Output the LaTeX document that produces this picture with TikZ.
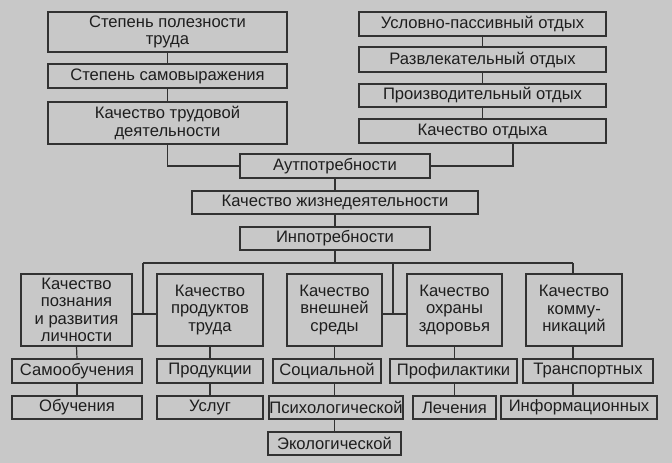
\documentclass[tikz,border=0pt]{standalone}
\usepackage{fontspec}
\setmainfont{Liberation Sans}
\definecolor{bg}{RGB}{200,200,200}
\definecolor{ln}{RGB}{50,50,50}
\definecolor{tx}{RGB}{30,30,30}
\tikzset{
  box/.style={draw=ln, line width=1.2pt, fill=bg, rectangle, inner sep=0pt,
    align=center, text=tx, font=\fontsize{16.6}{17.5}\selectfont},
  conn/.style={draw=ln, line width=1.2pt},
}
\begin{document}
\begin{tikzpicture}[x=1pt,y=-1pt]
\fill[bg] (0,0) rectangle (672,463);
\useasboundingbox (0,0) rectangle (672,463);
% top left column
\node[box, minimum width=239, minimum height=40] (p1) at (167.5,32) {Степень полезности\\труда};
\node[box, minimum width=239, minimum height=24] (p2) at (167.5,76) {Степень самовыражения};
\node[box, minimum width=239, minimum height=42] (p3) at (167.5,123) {Качество трудовой\\деятельности};
% top right column
\node[box, minimum width=247, minimum height=24] (r1) at (482.5,24) {Условно-пассивный отдых};
\node[box, minimum width=247, minimum height=25] (r2) at (482.5,59.5) {Развлекательный отдых};
\node[box, minimum width=247, minimum height=23] (r3) at (482.5,95.5) {Производительный отдых};
\node[box, minimum width=247, minimum height=24] (r4) at (482.5,131) {Качество отдыха};
% centre column
\node[box, minimum width=190, minimum height=24] (a) at (335,166) {Аутпотребности};
\node[box, minimum width=286, minimum height=23] (k) at (335,202.5) {Качество жизнедеятельности};
\node[box, minimum width=190, minimum height=23] (i) at (335,238.5) {Инпотребности};
% five categories
\node[box, minimum width=111, minimum height=72] (c1) at (76.5,310) {Качество\\познания\\и развития\\личности};
\node[box, minimum width=106, minimum height=72] (c2) at (210,310) {Качество\\продуктов\\труда};
\node[box, minimum width=95, minimum height=72] (c3) at (334.5,310) {Качество\\внешней\\среды};
\node[box, minimum width=95, minimum height=72] (c4) at (454.5,310) {Качество\\охраны\\здоровья};
\node[box, minimum width=96, minimum height=72] (c5) at (574,310) {Качество\\комму-\\никаций};
% sub boxes
\node[box, minimum width=130, minimum height=24] (s11) at (77,371) {Самообучения};
\node[box, minimum width=130, minimum height=23] (s12) at (77,407.5) {Обучения};
\node[box, minimum width=106, minimum height=24] (s21) at (210,371) {Продукции};
\node[box, minimum width=106, minimum height=23] (s22) at (210,407.5) {Услуг};
\node[box, minimum width=108, minimum height=24] (s31) at (327,371) {Социальной};
\node[box, minimum width=134, minimum height=23] (s32) at (336,407.5) {Психологической};
\node[box, minimum width=133, minimum height=23] (s33) at (334.5,443.5) {Экологической};
\node[box, minimum width=127, minimum height=24] (s41) at (453.5,371) {Профилактики};
\node[box, minimum width=83, minimum height=23] (s42) at (454.5,407.5) {Лечения};
\node[box, minimum width=130, minimum height=24] (s51) at (588,371) {Транспортных};
\node[box, minimum width=156, minimum height=23] (s52) at (579,407.5) {Информационных};
% connectors top
\draw[conn] (p1.south) -- (p2.north);
\draw[conn] (p2.south) -- (p3.north);
\draw[conn] (r1.south) -- (r2.north);
\draw[conn] (r2.south) -- (r3.north);
\draw[conn] (r3.south) -- (r4.north);
\draw[conn] (p3.south) |- (a.west);
\draw[conn] ([xshift=30.5pt]r4.south) |- (a.east);
\draw[conn] (a.south) -- (k.north);
\draw[conn] (k.south) -- (i.north);
% bus
\coordinate (busL) at (143,263);
\coordinate (busM) at (393,263);
\coordinate (busR) at (573,263);
\coordinate (j1) at ([yshift=-4pt]c1.east);
\coordinate (j2) at ([yshift=-4pt]c3.east);
\draw[conn] (i.south) -- (i.south |- busL);
\draw[conn] (busL) -- (busR);
\draw[conn] (busL) -- (busL |- j1);
\draw[conn] (j1) -- (c2.west |- j1);
\draw[conn] (busM) -- (busM |- j2);
\draw[conn] (j2) -- (c4.west |- j2);
\draw[conn] (busR) -- (busR |- c5.north);
% sub connectors
\draw[conn] (c1.south) -- (s11.north);
\draw[conn] (s11.south) -- (s12.north);
\draw[conn] (c2.south) -- (s21.north);
\draw[conn] (s21.south) -- (s22.north);
\draw[conn] (c3.south) -- (c3.south |- s31.north);
\draw[conn] (c3.south |- s31.south) -- (c3.south |- s32.north);
\draw[conn] (c3.south |- s32.south) -- (c3.south |- s33.north);
\draw[conn] (c4.south) -- (c4.south |- s41.north);
\draw[conn] (c4.south |- s41.south) -- (c4.south |- s42.north);
\draw[conn] (busR |- c5.south) -- (busR |- s51.north);
\draw[conn] (busR |- s51.south) -- (busR |- s52.north);
\end{tikzpicture}
\end{document}
